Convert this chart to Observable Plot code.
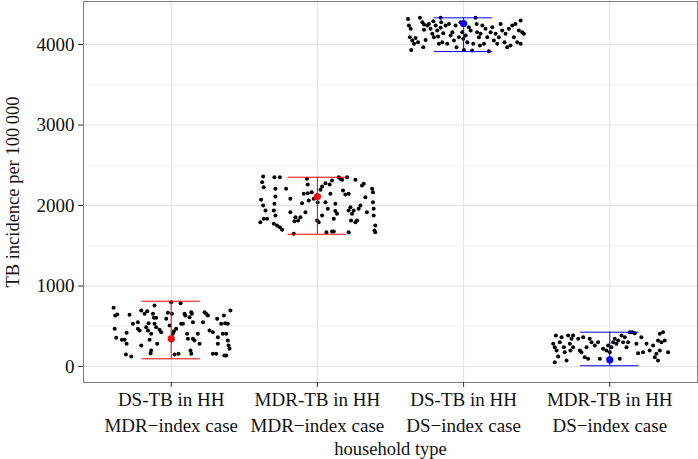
<!DOCTYPE html>
<html><head><meta charset="utf-8">
<script src="https://cdn.jsdelivr.net/npm/d3@7"></script>
<script src="https://cdn.jsdelivr.net/npm/@observablehq/plot@0.6"></script>
<style>body{margin:0;background:#fff}</style>
</head><body><div id="chart"></div>
<script>
const categories = ["DS-TB in HH\nMDR\u2212index case", "MDR-TB in HH\nMDR\u2212index case", "DS-TB in HH\nDS\u2212index case", "MDR-TB in HH\nDS\u2212index case"];
const yLabel = "TB incidence per 100\u2009000";
const xLabel = "household type";
const majorTicks = [0, 1000, 2000, 3000, 4000];
const minorTicks = [500, 1500, 2500, 3500, 4500];

// group 1: DS-TB in HH, MDR-index case  (jitter offset, value)
const g1Jitter = [-0.394,-0.383,-0.369,-0.387,-0.376,-0.319,-0.305,-0.305,-0.310,-0.273,-0.285,-0.262,-0.228,-0.228,-0.216,-0.205,-0.182,-0.164,-0.171,-0.159,-0.155,-0.148,-0.137,-0.137,-0.141,-0.114,-0.125,-0.118,-0.114,-0.103,-0.096,-0.080,-0.068,-0.034,-0.023,-0.011,0,0.005,0.011,0.018,0.023,0.034,0.050,0.064,0.068,0.080,0.091,0.096,0.109,0.114,0.125,0.137,0.141,0.148,0.132,0.137,0.148,0.159,0.182,0.194,0.217,0.228,0.239,0.251,0.262,0.285,0.285,0.308,0.314,0.319,0.319,0.342,0.353,0.360,0.369,0.376,0.364,0.376,0.387,0.392,0.399,0.405,0.387,-0.337,-0.205,-0.103];
const g1Values = [729,633,646,468,356,331,418,281,149,124,642,530,550,468,447,695,654,687,488,447,538,331,406,199,165,757,654,604,530,488,281,455,426,592,666,509,799,654,406,439,149,468,157,786,530,530,654,633,406,343,613,675,654,550,199,157,343,323,406,281,550,675,654,633,447,426,157,157,592,364,281,530,406,633,538,406,136,136,323,261,219,695,530,331,261,604];

// group 2: MDR-TB in HH, MDR-index case
const g2Jitter = [-0.371,-0.378,-0.367,-0.385,-0.371,-0.355,-0.367,-0.390,-0.344,-0.294,-0.287,-0.287,-0.294,-0.298,-0.287,-0.298,-0.276,-0.257,-0.241,-0.257,-0.214,-0.185,-0.185,-0.157,-0.150,-0.162,-0.132,-0.116,-0.105,-0.082,-0.071,-0.066,-0.066,-0.039,-0.059,-0.025,0.002,0.009,-0.002,0.021,0.032,0.055,0.055,0.062,0.071,0.089,0.084,0.100,0.100,0.112,0.123,0.123,0.134,0.146,0.157,0.169,0.175,0.191,0.203,0.214,0.214,0.226,0.237,0.214,0.230,0.248,0.260,0.260,0.271,0.282,0.294,0.305,0.317,0.328,0.339,0.374,0.380,0.380,0.385,0.385,0.396,0.396,0.390,-0.093,0.032,0.112];
const g2Values = [2360,2290,2228,2070,2000,1938,1834,1793,1834,2352,2207,2112,2021,1938,1876,1772,1751,1731,1698,2352,2207,2083,1917,1805,1855,1648,1814,1855,2029,1917,2331,2261,2153,2165,2062,2083,2041,1793,1814,2194,2236,2277,2041,1669,1958,2145,2261,2310,1677,1677,2021,1930,1896,2352,2331,2319,2186,2137,2352,2145,1938,1979,1896,1669,1814,1938,2319,1793,1814,1958,2000,2248,2269,2103,1917,2207,2165,2041,1958,1876,1751,1669,1689,2145,1876,1834];

// group 3: DS-TB in HH, DS-index case
const g3Jitter = [-0.380,-0.374,-0.362,-0.367,-0.351,-0.358,-0.339,-0.328,-0.312,-0.298,-0.282,-0.271,-0.276,-0.260,-0.248,-0.237,-0.226,-0.214,-0.207,-0.191,-0.180,-0.175,-0.169,-0.157,-0.153,-0.157,-0.146,-0.139,-0.123,-0.112,-0.100,-0.089,-0.077,-0.066,-0.055,-0.048,-0.032,-0.021,-0.009,-0.002,0.002,0.014,0.025,0.036,0.048,0.059,0.066,0.082,0.089,0.093,0.105,0.116,0.112,0.128,0.139,0.150,0.162,0.173,0.185,0.196,0.207,0.219,0.230,0.241,0.253,0.264,0.280,0.287,0.298,0.310,0.321,0.333,0.344,0.355,0.367,0.378,0.390,0.401,0.412,0.390,-0.271,-0.203];
const g3Values = [4318,4235,4194,4091,4049,3933,4008,4082,4028,4331,4277,4248,3966,4057,4235,4256,4194,4132,4289,4235,4173,4099,4008,4331,4277,4207,4028,4140,4235,4008,4256,4111,4153,4049,4235,3966,4091,4277,4153,4070,3933,4111,4028,4215,4173,3925,4008,4331,4256,4153,4091,4132,3987,4235,4008,4194,4091,3917,4153,4215,4049,4132,4008,4091,4256,4173,4028,4132,3966,4194,3987,4235,4091,4256,4028,4173,4298,4153,4132,4008,4182,4091];

// group 4: MDR-TB in HH, DS-index case
const g4Jitter = [-0.387,-0.376,-0.369,-0.364,-0.376,-0.353,-0.342,-0.330,-0.314,-0.308,-0.296,-0.285,-0.273,-0.269,-0.262,-0.251,-0.216,-0.205,-0.194,-0.182,-0.171,-0.148,-0.137,-0.125,-0.103,-0.080,-0.068,-0.046,-0.023,-0.011,0,0.011,0.023,0.034,0.046,0.057,0.068,0.080,0.091,0.103,0.114,0.125,0.137,0.155,0.171,0.182,0.194,0.216,0.228,0.251,0.273,0.296,0.308,0.319,0.330,0.342,0.353,0.342,0.364,0.376,0.399,0.330,-0.251,-0.159];
const g4Values = [281,240,385,199,54,124,302,364,240,178,74,385,281,199,343,385,343,199,178,364,116,95,343,302,261,302,95,219,199,261,178,240,302,343,281,323,95,385,302,364,240,302,426,426,414,281,165,364,178,281,199,261,116,157,74,199,302,406,426,323,178,323,240,240];

// summary (point estimate and range) per category
const summaryCenter = [344, 2111, 4260, 83];
const summaryLow = [95, 1643, 3912, 9];
const summaryHigh = [811, 2351, 4331, 426];
const summaryColor = ["#ff0000", "#ff0000", "#0000ff", "#0000ff"];

const groups = [[g1Jitter, g1Values], [g2Jitter, g2Values], [g3Jitter, g3Values], [g4Jitter, g4Values]];
const points = groups.flatMap(([j, v], i) => v.map((val, k) => ({x: i + 1 + j[k], y: val})));
const summary = categories.map((c, i) => ({x: i + 1, mid: summaryCenter[i], lo: summaryLow[i], hi: summaryHigh[i], color: summaryColor[i]}));

const chart = Plot.plot({
  width: 698,
  height: 459,
  marginLeft: 83,
  marginRight: 1,
  marginTop: 1,
  marginBottom: 77,
  style: {fontFamily: "'Liberation Serif', 'DejaVu Serif', serif", fontSize: "18px", color: "#111", background: "#fff"},
  x: {type: "linear", domain: [0.4, 4.6]},
  y: {domain: [-199, 4534]},
  marks: [
    Plot.ruleY(minorTicks, {stroke: "#f2f2f2", strokeWidth: 1}),
    Plot.ruleY(majorTicks, {stroke: "#e3e3e3", strokeWidth: 1}),
    Plot.ruleX([1, 2, 3, 4], {stroke: "#e3e3e3", strokeWidth: 1}),
    Plot.dot(points, {x: "x", y: "y", r: 2, fill: "black", stroke: null}),
    Plot.ruleX(summary, {x: "x", y1: "lo", y2: "hi", stroke: d => d.color, strokeWidth: 1}),
    Plot.ruleY(summary, {y: "lo", x1: d => d.x - 0.2, x2: d => d.x + 0.2, stroke: d => d.color, strokeWidth: 1}),
    Plot.ruleY(summary, {y: "hi", x1: d => d.x - 0.2, x2: d => d.x + 0.2, stroke: d => d.color, strokeWidth: 1}),
    Plot.dot(summary, {x: "x", y: "mid", r: 3.6, fill: d => d.color, stroke: null}),
    Plot.frame({stroke: "#7f7f7f", strokeWidth: 1}),
    Plot.axisX({ticks: [1, 2, 3, 4], tickFormat: d => categories[d - 1], tickSize: 5, tickPadding: 0, lineHeight: 1.37, fontSize: 19, label: null, stroke: "#333", textStroke: null}),
    Plot.axisY({ticks: majorTicks, tickFormat: d => String(d), tickSize: 5, tickPadding: 4, fontSize: 19, label: null, stroke: "#333"}),
    Plot.text([yLabel], {text: d => d, frameAnchor: "left", dx: -70, rotate: -90, textAnchor: "middle", fontSize: 18.5}),
    Plot.text([xLabel], {text: d => d, frameAnchor: "bottom", dy: 72, textAnchor: "middle", fontSize: 18.5})
  ]
});
document.getElementById("chart").appendChild(chart);
</script>
</body></html>
